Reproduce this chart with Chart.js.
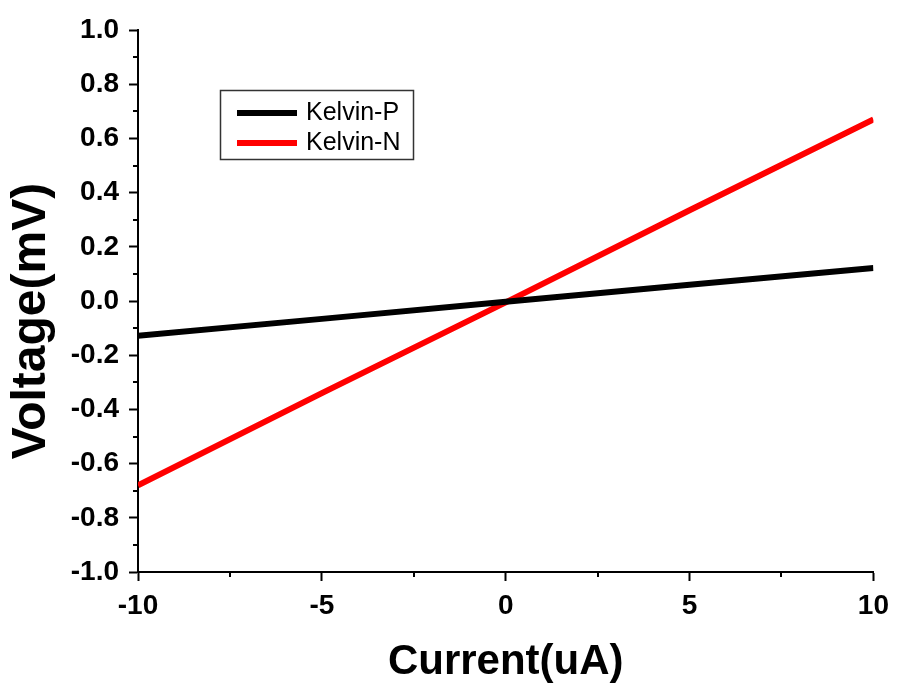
<!DOCTYPE html>
<html>
<head>
<meta charset="utf-8">
<script src="https://cdn.jsdelivr.net/npm/chart.js@4"></script>
<style>
  html, body { margin: 0; padding: 0; background: #fff; }
  #wrap { width: 897px; height: 691px; }
</style>
</head>
<body>
<div id="wrap"><canvas id="ivChart" width="897" height="691"></canvas></div>
<script>
// Data
const currentUA = [-10, -5, 0, 5, 10];
const kelvinP = [-0.128, -0.066, -0.003, 0.060, 0.122];
const kelvinN = [-0.680, -0.340, -0.005, 0.335, 0.670];
const seriesNames = ['Kelvin-P', 'Kelvin-N'];
const seriesColors = ['#000000', '#ff0000'];

const FONT = "'Liberation Sans', Arial, sans-serif";

function toPoints(xs, ys) {
  return xs.map((x, i) => ({ x: x, y: ys[i] }));
}

// minor ticks, y title and boxed legend (Origin style)
const originExtras = {
  id: 'originExtras',
  afterDraw(chart) {
    const ctx = chart.ctx;
    const xs = chart.scales.x, ys = chart.scales.y;
    ctx.save();
    ctx.strokeStyle = '#000';
    ctx.lineWidth = 2;
    // minor ticks
    [-7.5, -2.5, 2.5, 7.5].forEach(v => {
      const px = Math.round(xs.getPixelForValue(v));
      ctx.beginPath();
      ctx.moveTo(px, ys.bottom);
      ctx.lineTo(px, ys.bottom + 5);
      ctx.stroke();
    });
    for (let k = -9; k <= 9; k += 2) {
      const py = Math.round(ys.getPixelForValue(k / 10));
      ctx.beginPath();
      ctx.moveTo(xs.left, py);
      ctx.lineTo(xs.left - 5, py);
      ctx.stroke();
    }
    // y title
    ctx.fillStyle = '#000';
    ctx.font = 'bold 48px ' + FONT;
    ctx.textAlign = 'center';
    ctx.textBaseline = 'middle';
    ctx.translate(32, 321);
    ctx.rotate(-Math.PI / 2);
    ctx.fillText('Voltage(mV)', 0, 0);
    ctx.restore();

    // legend
    ctx.save();
    ctx.strokeStyle = '#333';
    ctx.lineWidth = 1.5;
    ctx.strokeRect(220.5, 90.5, 193, 69);
    chart.data.datasets.forEach((ds, i) => {
      const y = 113 + i * 30;
      ctx.strokeStyle = ds.borderColor;
      ctx.lineWidth = 6;
      ctx.beginPath();
      ctx.moveTo(237, y);
      ctx.lineTo(297, y);
      ctx.stroke();
      ctx.fillStyle = '#000';
      ctx.font = '25px ' + FONT;
      ctx.textAlign = 'left';
      ctx.textBaseline = 'middle';
      ctx.fillText(ds.label, 306, y);
    });
    ctx.restore();
  }
};

const ctx = document.getElementById('ivChart').getContext('2d');
const chart = new Chart(ctx, {
  type: 'line',
  data: {
    datasets: [
      {
        label: seriesNames[0],
        data: toPoints(currentUA, kelvinP),
        borderColor: seriesColors[0],
        borderWidth: 6,
        pointRadius: 0,
        fill: false
      },
      {
        label: seriesNames[1],
        data: toPoints(currentUA, kelvinN),
        borderColor: seriesColors[1],
        borderWidth: 6,
        pointRadius: 0,
        fill: false
      }
    ]
  },
  options: {
    responsive: false,
    animation: false,
    layout: { padding: { top: 30, right: 18, bottom: 0, left: 0 } },
    plugins: {
      legend: { display: false },
      tooltip: { enabled: false }
    },
    scales: {
      x: {
        type: 'linear',
        min: -10,
        max: 10,
        afterFit(scale) { scale.height = 119; },
        border: { display: true, color: '#000', width: 2 },
        grid: {
          drawOnChartArea: false,
          drawTicks: true,
          tickLength: 9,
          tickWidth: 2,
          tickColor: '#000'
        },
        ticks: {
          stepSize: 5,
          padding: 8,
          color: '#000',
          maxRotation: 0,
          font: { family: FONT, size: 28, weight: 'bold' }
        },
        title: {
          display: true,
          text: 'Current(uA)',
          color: '#000',
          padding: { top: 0, bottom: 3 },
          font: { family: FONT, size: 42, weight: 'bold' }
        }
      },
      y: {
        type: 'linear',
        min: -1,
        max: 1,
        afterFit(scale) { scale.width = 138; },
        border: { display: true, color: '#000', width: 2 },
        grid: {
          drawOnChartArea: false,
          drawTicks: true,
          tickLength: 9,
          tickWidth: 2,
          tickColor: '#000'
        },
        ticks: {
          stepSize: 0.2,
          padding: 10,
          color: '#000',
          font: { family: FONT, size: 28, weight: 'bold' },
          callback: v => v.toFixed(1)
        }
      }
    }
  },
  plugins: [originExtras]
});
</script>
</body>
</html>
